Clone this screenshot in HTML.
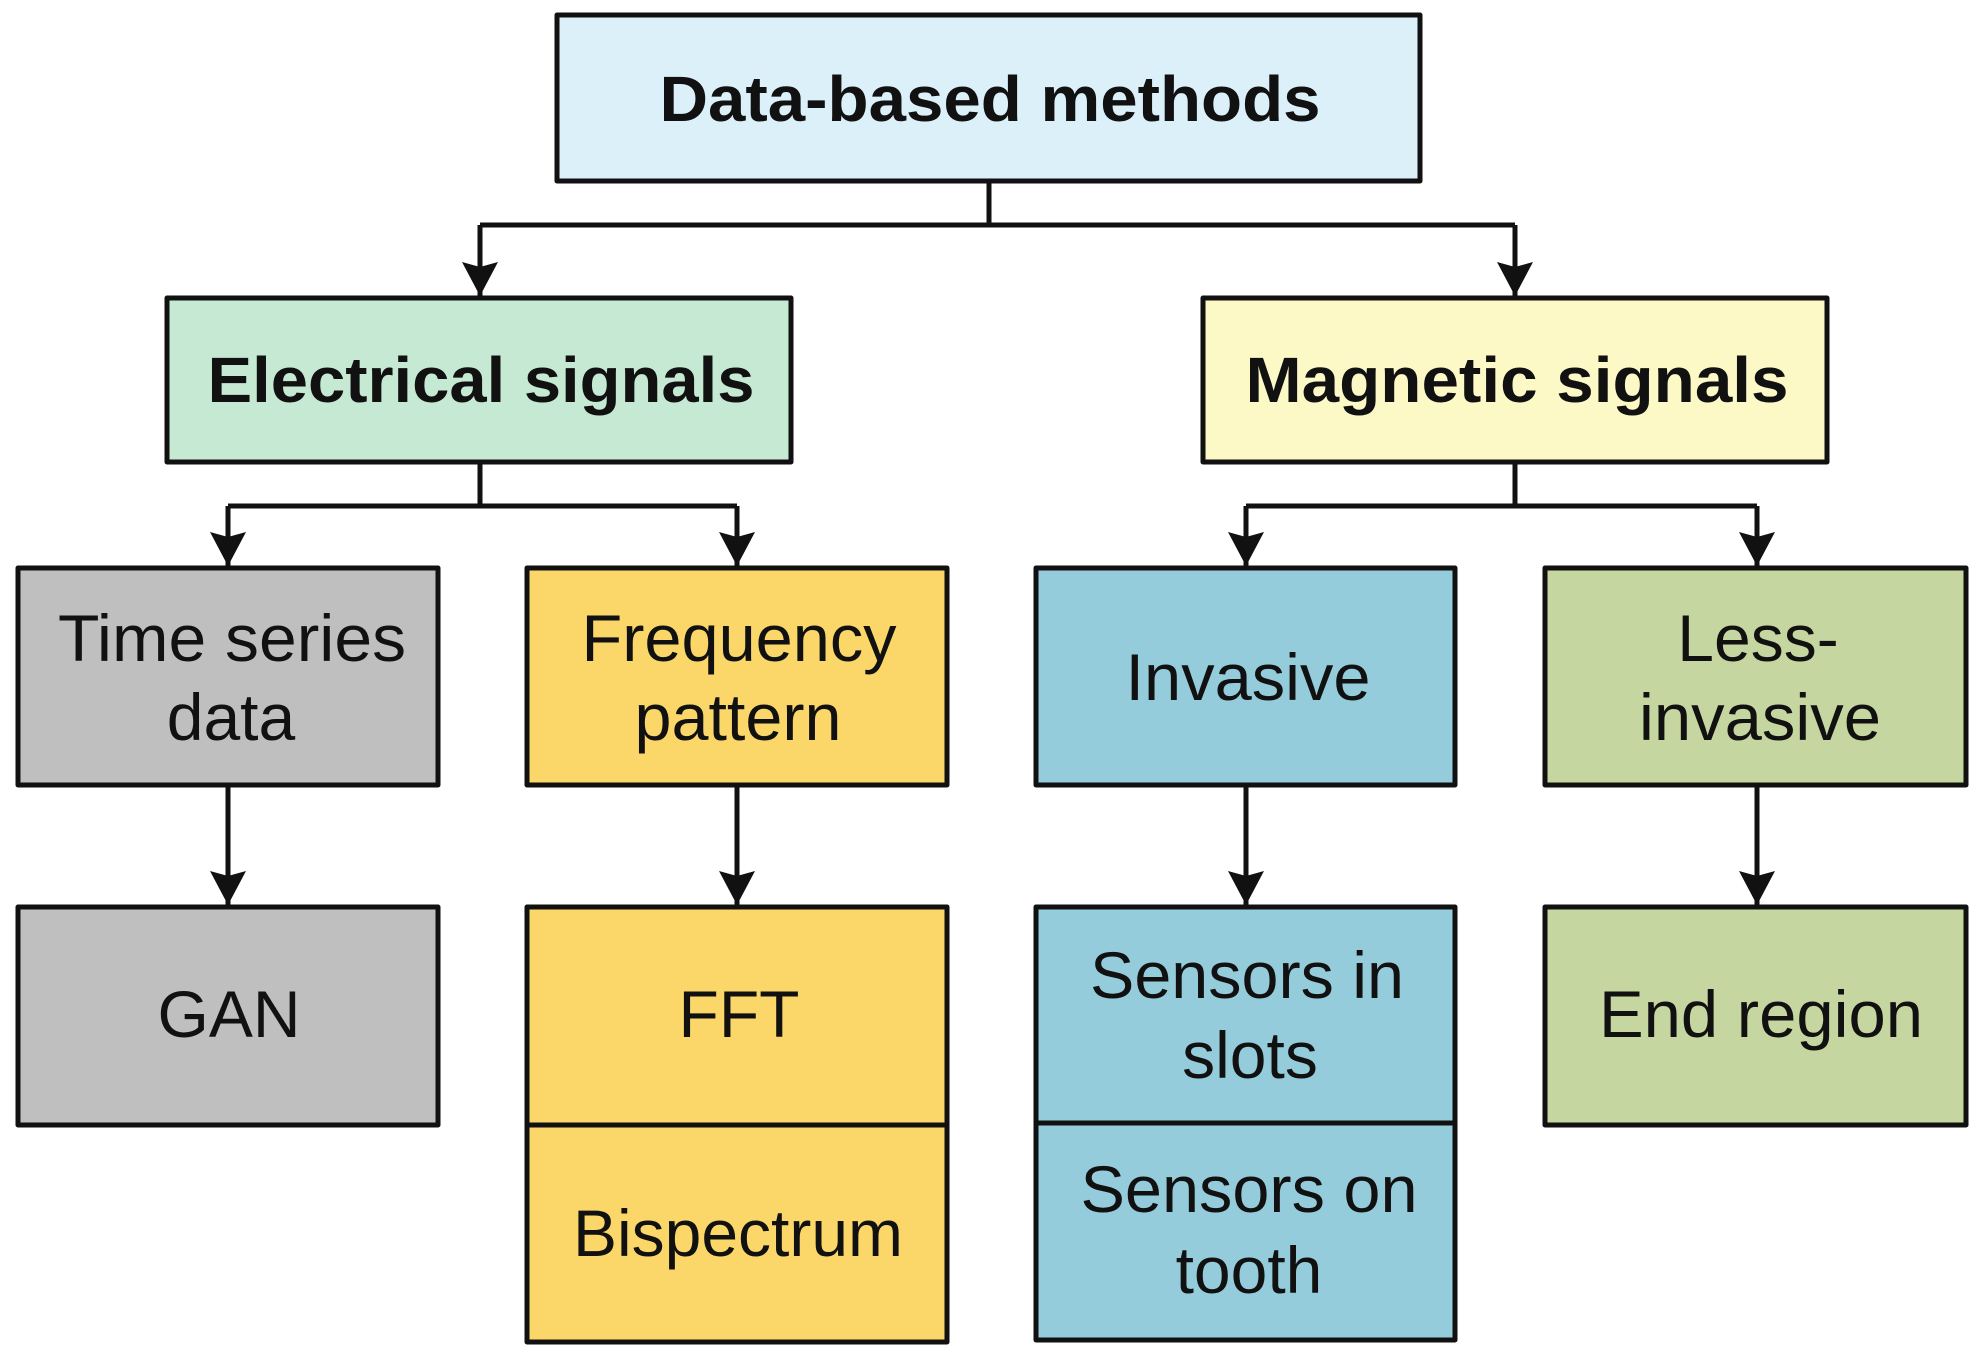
<!DOCTYPE html>
<html><head><meta charset="utf-8"><style>
html,body{margin:0;padding:0;background:#fff}
svg{display:block}
text{font-family:"Liberation Sans",Arial,sans-serif;fill:#111}
.b{font-weight:bold;font-size:64px}
.n{font-size:66px}
</style></head><body>
<svg width="1981" height="1355" viewBox="0 0 1981 1355" xmlns="http://www.w3.org/2000/svg">
<defs><marker id="a" markerWidth="34" markerHeight="36" refX="34" refY="18" orient="auto" markerUnits="userSpaceOnUse" viewBox="0 0 34 36"><path d="M0,0 L34,18 L0,36 L5,18 Z" fill="#111"/></marker></defs>
<g stroke="#111" stroke-width="5" stroke-linejoin="round">
<rect x="557" y="15" width="863" height="166" fill="#dcf0fa"/>
<rect x="167" y="298" width="624" height="164" fill="#c6e9d3"/>
<rect x="1203" y="298" width="624" height="164" fill="#fcf9c6"/>
<rect x="18" y="568" width="420" height="217" fill="#c0bfbf"/>
<rect x="527" y="568" width="420" height="217" fill="#fbd76a"/>
<rect x="1036" y="568" width="419" height="217" fill="#95ccdb"/>
<rect x="1545" y="568" width="421" height="217" fill="#c6d6a0"/>
<rect x="18" y="907" width="420" height="218" fill="#c0bfbf"/>
<rect x="527" y="907" width="420" height="218" fill="#fbd76a"/>
<rect x="527" y="1125" width="420" height="217" fill="#fbd76a"/>
<rect x="1036" y="907" width="419" height="216" fill="#95ccdb"/>
<rect x="1036" y="1123" width="419" height="217" fill="#95ccdb"/>
<rect x="1545" y="907" width="421" height="218" fill="#c6d6a0"/>
<g fill="none">
<path d="M989 181 V225 M480 225 H1515"/>
<path d="M480 225 V296" marker-end="url(#a)"/>
<path d="M1515 225 V296" marker-end="url(#a)"/>
<path d="M480 462 V506 M228 506 H737"/>
<path d="M228 506 V566" marker-end="url(#a)"/>
<path d="M737 506 V566" marker-end="url(#a)"/>
<path d="M1515 462 V506 M1246 506 H1757"/>
<path d="M1246 506 V566" marker-end="url(#a)"/>
<path d="M1757 506 V566" marker-end="url(#a)"/>
<path d="M228 785 V905" marker-end="url(#a)"/>
<path d="M737 785 V905" marker-end="url(#a)"/>
<path d="M1246 785 V905" marker-end="url(#a)"/>
<path d="M1757 785 V905" marker-end="url(#a)"/>
</g>
</g>
<g text-anchor="middle">
<text class="b" x="990" y="121" textLength="661" lengthAdjust="spacingAndGlyphs">Data-based methods</text>
<text class="b" x="481" y="402" textLength="547" lengthAdjust="spacingAndGlyphs">Electrical signals</text>
<text class="b" x="1517" y="402" textLength="543" lengthAdjust="spacingAndGlyphs">Magnetic signals</text>
<text class="n" x="232" y="661" textLength="348" lengthAdjust="spacingAndGlyphs">Time series</text>
<text class="n" x="231" y="740">data</text>
<text class="n" x="739" y="661" textLength="315" lengthAdjust="spacingAndGlyphs">Frequency</text>
<text class="n" x="738" y="740" textLength="207" lengthAdjust="spacingAndGlyphs">pattern</text>
<text class="n" x="1248" y="700" textLength="245" lengthAdjust="spacingAndGlyphs">Invasive</text>
<text class="n" x="1758" y="661">Less-</text>
<text class="n" x="1760" y="740" textLength="242" lengthAdjust="spacingAndGlyphs">invasive</text>
<text class="n" x="229" y="1037">GAN</text>
<text class="n" x="739" y="1037">FFT</text>
<text class="n" x="738" y="1256" textLength="330" lengthAdjust="spacingAndGlyphs">Bispectrum</text>
<text class="n" x="1247" y="998" textLength="314" lengthAdjust="spacingAndGlyphs">Sensors in</text>
<text class="n" x="1250" y="1078">slots</text>
<text class="n" x="1249" y="1212" textLength="337" lengthAdjust="spacingAndGlyphs">Sensors on</text>
<text class="n" x="1249" y="1293">tooth</text>
<text class="n" x="1761" y="1037" textLength="324" lengthAdjust="spacingAndGlyphs">End region</text>
</g>
</svg>
</body></html>
